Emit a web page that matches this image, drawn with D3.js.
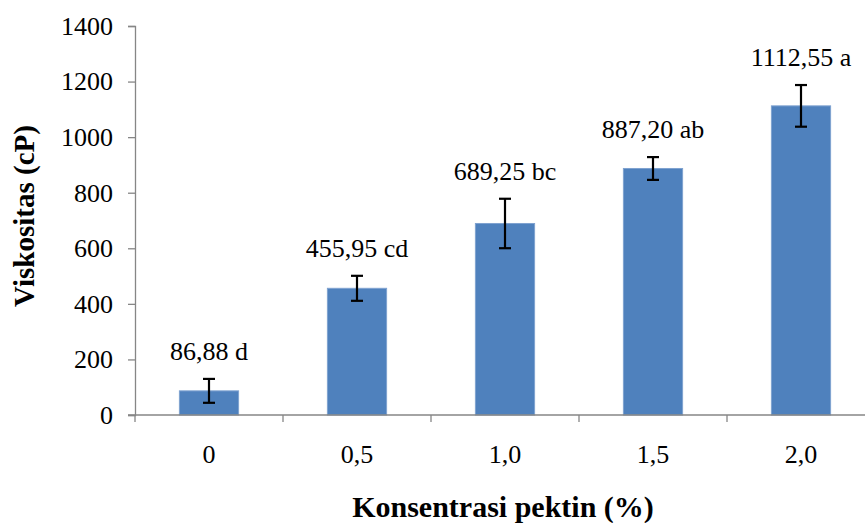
<!DOCTYPE html>
<html>
<head>
<meta charset="utf-8">
<script src="https://cdn.jsdelivr.net/npm/d3@7"></script>
<style>
  body { margin: 0; background: #fff; }
</style>
</head>
<body>
<svg id="chart" width="865" height="523"></svg>
<script>
// data
const categories = ["0", "0,5", "1,0", "1,5", "2,0"];
const values = [86.88, 455.95, 689.25, 887.20, 1112.55];
const errors = [43, 45, 89, 41, 75];
const labels = ["86,88 d", "455,95 cd", "689,25 bc", "887,20 ab", "1112,55 a"];
const yTicks = [0, 200, 400, 600, 800, 1000, 1200, 1400];

const svg = d3.select("#chart");
const axisColor = "#868686";
const serif = "'Liberation Serif'";

// scales
const x = d3.scaleBand()
    .domain(categories)
    .range([135, 875])
    .paddingInner(0.6)
    .paddingOuter(0.3);

const y = d3.scaleLinear()
    .domain([0, 1400])
    .range([415, 26]);

// y axis
const yAxis = svg.append("g")
    .attr("transform", "translate(135,0)")
    .call(d3.axisLeft(y).tickValues(yTicks).tickSize(7).tickPadding(15).tickFormat(d3.format("d")));
yAxis.select(".domain").attr("stroke", axisColor).attr("stroke-width", 1.3);
yAxis.selectAll(".tick line").attr("stroke", axisColor).attr("stroke-width", 1.3);
yAxis.selectAll("text")
    .style("font-family", serif)
    .style("font-size", "26px")
    .attr("fill", "#000");

// bars
svg.selectAll("rect.bar")
    .data(values)
    .enter()
    .append("rect").attr("class", "bar")
    .attr("x", (d, i) => x(categories[i]))
    .attr("width", x.bandwidth())
    .attr("y", d => y(d))
    .attr("height", d => y(0) - y(d))
    .attr("fill", "#4F81BD")
    .attr("stroke", "#7FA2D0")
    .attr("stroke-width", 1);

// x axis line + boundary ticks
svg.append("line")
    .attr("x1", 128).attr("x2", 865)
    .attr("y1", y(0)).attr("y2", y(0))
    .attr("stroke", axisColor).attr("stroke-width", 1.3);

const step = x.step();
svg.selectAll("line.xtick")
    .data(d3.range(categories.length + 1))
    .enter()
    .append("line").attr("class", "xtick")
    .attr("x1", i => x.range()[0] + i * step)
    .attr("x2", i => x.range()[0] + i * step)
    .attr("y1", y(0)).attr("y2", y(0) + 7)
    .attr("stroke", axisColor).attr("stroke-width", 1.3);

// x labels
svg.selectAll("text.xlab")
    .data(categories)
    .enter()
    .append("text").attr("class", "xlab")
    .attr("x", d => x(d) + x.bandwidth() / 2)
    .attr("y", 463)
    .attr("text-anchor", "middle")
    .style("font-family", serif)
    .style("font-size", "26px")
    .text(d => d);

// error bars
const eb = svg.selectAll("g.err")
    .data(values)
    .enter()
    .append("g").attr("class", "err")
    .attr("transform", (d, i) => "translate(" + (x(categories[i]) + x.bandwidth() / 2) + ",0)");

eb.append("line")
    .attr("y1", (d, i) => y(d + errors[i]))
    .attr("y2", (d, i) => y(d - errors[i]))
    .attr("stroke", "#000").attr("stroke-width", 2.2);
eb.append("line")
    .attr("x1", -6).attr("x2", 6)
    .attr("y1", (d, i) => y(d + errors[i]))
    .attr("y2", (d, i) => y(d + errors[i]))
    .attr("stroke", "#000").attr("stroke-width", 2.2);
eb.append("line")
    .attr("x1", -6).attr("x2", 6)
    .attr("y1", (d, i) => y(d - errors[i]))
    .attr("y2", (d, i) => y(d - errors[i]))
    .attr("stroke", "#000").attr("stroke-width", 2.2);

// value labels
svg.selectAll("text.vlab")
    .data(values)
    .enter()
    .append("text").attr("class", "vlab")
    .attr("x", (d, i) => x(categories[i]) + x.bandwidth() / 2)
    .attr("y", (d, i) => y(d + errors[i]) - 19)
    .attr("text-anchor", "middle")
    .style("font-family", serif)
    .style("font-size", "26px")
    .text((d, i) => labels[i]);

// axis titles
svg.append("text")
    .attr("transform", "translate(34,216) rotate(-90)")
    .attr("text-anchor", "middle")
    .style("font-family", serif)
    .style("font-size", "29px")
    .style("font-weight", "bold")
    .text("Viskositas (cP)");

svg.append("text")
    .attr("x", 503)
    .attr("y", 517)
    .attr("text-anchor", "middle")
    .style("font-family", serif)
    .style("font-size", "30px")
    .style("font-weight", "bold")
    .text("Konsentrasi pektin (%)");
</script>
</body>
</html>
